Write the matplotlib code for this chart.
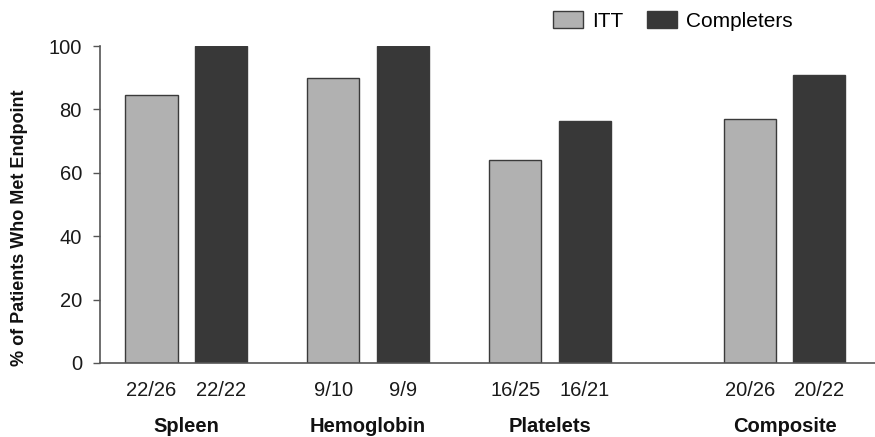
import numpy as np
import matplotlib
matplotlib.use("Agg")
import matplotlib.pyplot as plt
from matplotlib.patches import Patch

plt.rcParams["font.family"] = ["Liberation Sans", "DejaVu Sans"]

endpoints = ["Spleen", "Hemoglobin", "Platelets", "Composite"]
itt_met = [22, 9, 16, 20]
itt_total = [26, 10, 25, 26]
comp_met = [22, 9, 16, 20]
comp_total = [22, 9, 21, 22]
series_names = ["ITT", "Completers"]

itt_pct = np.array(itt_met) / np.array(itt_total) * 100
comp_pct = np.array(comp_met) / np.array(comp_total) * 100

# composite sits a bit further out from the individual endpoints
group_x = np.array([0.0, 1.0, 2.0, 3.29])
width = 0.286
offset = 0.19

light = "#b1b1b1"
dark = "#383838"
edge = "#3a3a3a"
axis_col = "#555555"

fig = plt.figure(figsize=(8.75, 4.37), dpi=100)
ax = fig.add_axes([100 / 875, 1 - 363 / 437, 1 - 100 / 875, 317 / 437])

ax.bar(group_x - offset, itt_pct, width, color=light, edgecolor=edge, linewidth=1.0)
ax.bar(group_x + offset, comp_pct, width, color=dark, edgecolor=edge, linewidth=1.0)

ax.set_xlim(-0.473, 3.786)
ax.set_ylim(0, 100)
ax.set_yticks([0, 20, 40, 60, 80, 100])
ax.tick_params(axis="y", direction="out", length=5, width=1, color=axis_col,
               labelsize=14.5, pad=8, labelcolor="#1a1a1a")

# fraction labels under each bar
tick_pos = np.concatenate([group_x - offset, group_x + offset])
tick_lab = [f"{a}/{b}" for a, b in zip(itt_met, itt_total)] + \
           [f"{a}/{b}" for a, b in zip(comp_met, comp_total)]
ax.set_xticks(tick_pos)
ax.set_xticklabels(tick_lab)
ax.tick_params(axis="x", length=0, labelsize=14.5, pad=13, labelcolor="#1a1a1a")

for x, name in zip(group_x, endpoints):
    ax.text(x, -0.2, name, transform=ax.get_xaxis_transform(), ha="center",
            va="center", fontsize=14.5, fontweight="bold", color="#111111")

for side in ["top", "right"]:
    ax.spines[side].set_visible(False)
for side in ["left", "bottom"]:
    ax.spines[side].set_color(axis_col)
    ax.spines[side].set_linewidth(1.2)

fig.text(20 / 875, 1 - 228 / 437, "% of Patients Who Met Endpoint", rotation=90,
         ha="center", va="center", fontsize=13, fontweight="bold", color="#111111")

handles = [Patch(facecolor=light, edgecolor=edge), Patch(facecolor=dark, edgecolor=edge)]
fig.legend(handles, series_names, loc="center left", ncol=2, frameon=False,
           bbox_to_anchor=(553 / 875, 1 - 21 / 437), borderaxespad=0, borderpad=0,
           fontsize=15, handlelength=1.45, handleheight=0.9, handletextpad=0.45,
           columnspacing=1.1)

fig.savefig("out.png", dpi=100)
